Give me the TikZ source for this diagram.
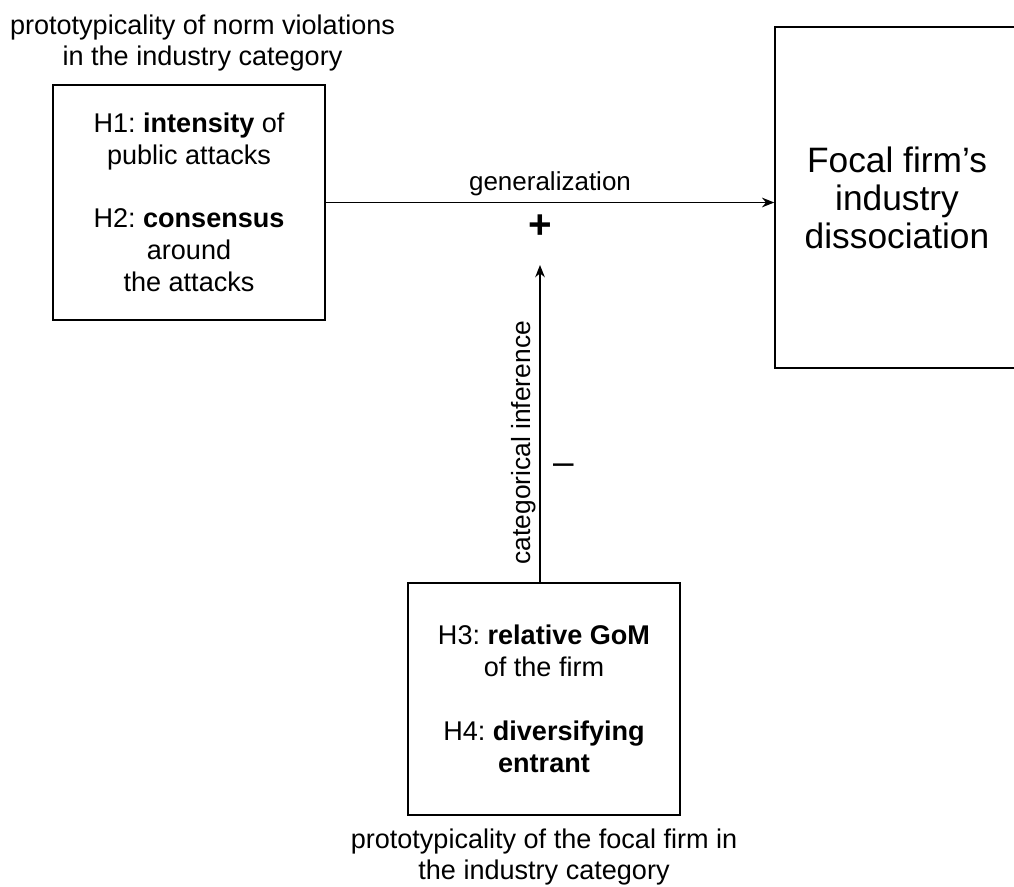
\documentclass[tikz,border=0pt]{standalone}
\usepackage{fontspec}
\setmainfont{Liberation Sans}
\frenchspacing
\usetikzlibrary{arrows.meta,positioning}

\begin{document}
\begin{tikzpicture}[x=0.02cm, y=-0.02cm, ->, >={Stealth[length=7pt,width=5.5pt]}, line width=0.7pt, node distance=2cm]
        \tikzstyle{hbox}=[draw=black,line width=0.85pt,rectangle,align=center,inner sep=0pt,font=\fontsize{15.4}{18.2}\selectfont]
        \tikzstyle{caption}=[align=center,inner sep=0pt,font=\fontsize{15.4}{17.6}\selectfont]

        \useasboundingbox (0,0) rectangle (1014,886);
        \clip (0,0) rectangle (1014,886);

        \node[hbox, minimum width=5.44cm, minimum height=4.7cm]    (attacks) at (189,202.5)
            {H1: \textbf{intensity} of\\public attacks\\[18pt]H2: \textbf{consensus}\\around\\the attacks};
        \node[hbox, minimum width=4.88cm, minimum height=6.82cm, font=\fontsize{20.1}{21.6}\selectfont]    (dissoc) at (897,197.5)
            {Focal firm's\\industry\\dissociation};
        \node[hbox, minimum width=5.44cm, minimum height=4.64cm]    (firm) at (544,699)
            {H3: \textbf{relative GoM}\\of the firm\\[18pt]H4: \textbf{diversifying}\\\textbf{entrant}};

        \node[caption]    (normlabel)[above=0.26cm of attacks, xshift=0.27cm]    {prototypicality of norm violations\\in the industry category};
        \node[caption]    (firmlabel)[below=0.26cm of firm]       {prototypicality of the focal firm in\\the industry category};

        \coordinate (tip) at (540,265);
        \node[inner sep=0pt, font=\fontsize{23}{24}\selectfont\bfseries]    (plus) at (540,227)    {+};

        \path
            (attacks.east) edge    node[above, font=\fontsize{14.8}{17}\selectfont]{generalization}    (attacks.east -| dissoc.west)
            (firm.north -| tip) edge    node[pos=0.44, rotate=90, above, inner sep=2pt, font=\fontsize{15}{17}\selectfont]{categorical inference}
                                   node[pos=0.355, right=0.25cm, inner sep=0pt, font=\fontsize{21}{22}\selectfont]{--}    (tip)
        ;
    \end{tikzpicture}
\end{document}
